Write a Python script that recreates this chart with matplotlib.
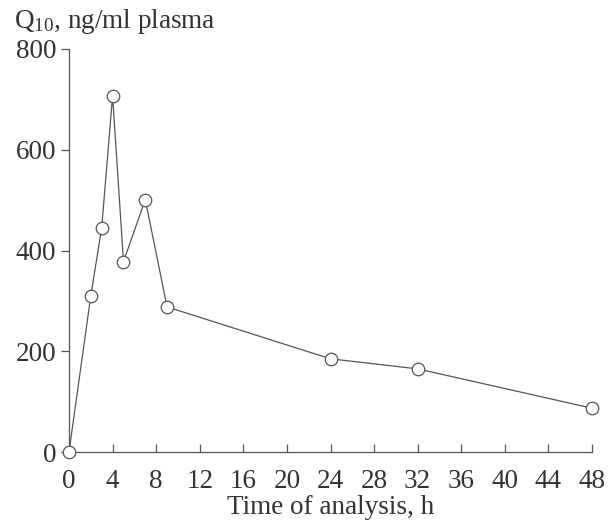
import matplotlib
matplotlib.use("Agg")
import matplotlib.pyplot as plt

plt.rcParams['font.family'] = ['Liberation Serif', 'DejaVu Serif']
plt.rcParams['mathtext.fontset'] = 'custom'
plt.rcParams['mathtext.rm'] = 'Liberation Serif'
plt.rcParams['mathtext.it'] = 'Liberation Serif'

time_h = [0, 2, 3, 4, 5, 7, 9, 24, 32, 48]
q10 = [0, 310, 445, 707, 378, 501, 288, 185, 165, 87]
x_ticks = [0, 4, 8, 12, 16, 20, 24, 28, 32, 36, 40, 44, 48]
y_ticks = [0, 200, 400, 600, 800]

line_c = '#555555'
text_c = '#333333'

fig = plt.figure(figsize=(6.12, 5.27), dpi=100)
ax = fig.add_axes([69/612, 75/527, (592-69)/612, (452-49)/527])
ax.plot(time_h, q10, color=line_c, lw=0.9, marker='o', ms=9,
        mfc='white', mec=line_c, mew=0.9, clip_on=False, zorder=3)
ax.set_xlim(0, 48)
ax.set_ylim(0, 800)
ax.set_xticks(x_ticks)
ax.set_yticks(y_ticks)
ax.spines['top'].set_visible(False)
ax.spines['right'].set_visible(False)
for s in ('left', 'bottom'):
    ax.spines[s].set_color(line_c)
    ax.spines[s].set_linewidth(0.9)
ax.tick_params(axis='x', direction='in', length=6, width=0.9, color=line_c,
               labelsize=19.5, labelcolor=text_c, pad=12)
ax.tick_params(axis='y', direction='out', length=6, width=0.9, color=line_c,
               labelsize=19.5, labelcolor=text_c, pad=3)
ax.set_xlabel('Time of analysis, h', fontsize=19.5, color=text_c, labelpad=1)
fig.text(14/612, 1 - 28/527, r'Q$_{\mathregular{10}}$, ng/ml plasma', fontsize=19.5,
         color=text_c, ha='left', va='baseline')
fig.savefig('out.png', dpi=100)
